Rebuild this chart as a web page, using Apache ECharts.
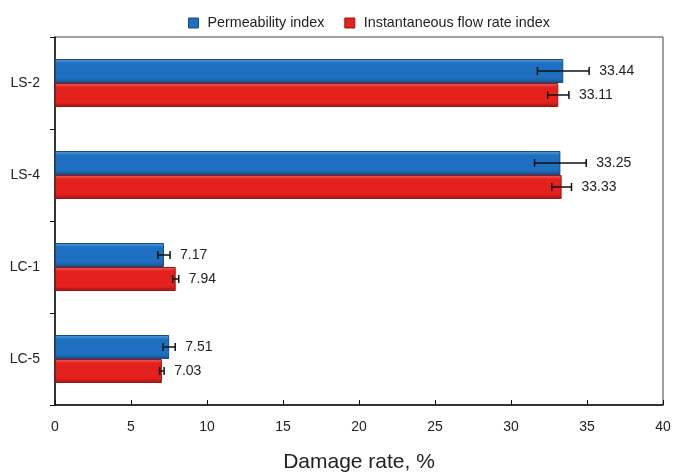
<!DOCTYPE html>
<html><head><meta charset="utf-8">
<script src="https://cdn.jsdelivr.net/npm/echarts@6/dist/echarts.min.js"></script>
<style>html,body{margin:0;padding:0;background:#fff}#c{width:673px;height:472px}</style>
</head><body><div id="c"></div>
<script>
const categories = ['LS-2', 'LS-4', 'LC-1', 'LC-5'];
const permeability = [33.44, 33.25, 7.17, 7.51];
const permeabilityErr = [1.7, 1.7, 0.4, 0.4];
const flowRate = [33.11, 33.33, 7.94, 7.03];
const flowRateErr = [0.7, 0.65, 0.2, 0.15];
const xTicks = [0, 5, 10, 15, 20, 25, 30, 35, 40];

const BAR_W = 24;
const font = 'Liberation Sans, Arial, sans-serif';

function grad(light, main, dark) {
  return new echarts.graphic.LinearGradient(0, 0, 0, 1, [
    {offset: 0, color: light}, {offset: 0.18, color: main},
    {offset: 0.8, color: main}, {offset: 1, color: dark}
  ]);
}
const blueFill = grad('#5a9ee0', '#1f6fc0', '#164d86');
const redFill = grad('#f0605a', '#e4211d', '#9c1512');

function errData(vals, errs, side) {
  return vals.map((v, i) => [i, v, errs[i], side]);
}
function renderErr(params, api) {
  const cat = api.value(0), v = api.value(1), e = api.value(2), side = api.value(3);
  const c = api.coord([v, cat]);
  const y = c[1] + side * BAR_W / 2;
  const x1 = api.coord([v - e, cat])[0];
  const x2 = api.coord([v + e, cat])[0];
  const cap = 4;
  return {
    type: 'group',
    children: [
      {type: 'line', shape: {x1: x1, y1: y, x2: x2, y2: y}, style: {stroke: '#111', lineWidth: 1.5}},
      {type: 'line', shape: {x1: x1, y1: y - cap, x2: x1, y2: y + cap}, style: {stroke: '#111', lineWidth: 1.5}},
      {type: 'line', shape: {x1: x2, y1: y - cap, x2: x2, y2: y + cap}, style: {stroke: '#111', lineWidth: 1.5}},
      {type: 'text', x: x2 + 10, y: y, style: {text: v.toFixed(2), fill: '#222', font: '14px ' + font, textVerticalAlign: 'middle', textAlign: 'left'}}
    ]
  };
}

const chart = echarts.init(document.getElementById('c'));
chart.setOption({
  animation: false,
  textStyle: {fontFamily: font},
  legend: {
    top: 11, left: 183, itemWidth: 10, itemHeight: 10, itemGap: 20,
    textStyle: {fontSize: 14.3, color: '#222', fontFamily: font, padding: [0, 0, 0, 4]},
    data: [
      {name: 'Permeability index', icon: 'rect', itemStyle: {color: '#1f6fc0', borderColor: '#164d86', borderWidth: 1}},
      {name: 'Instantaneous flow rate index', icon: 'rect', itemStyle: {color: '#e4211d', borderColor: '#9c1512', borderWidth: 1}}
    ]
  },
  grid: {left: 55, right: 10, top: 37, bottom: 67, show: true, borderColor: '#444', borderWidth: 1, containLabel: false, outerBoundsMode: 'none'},
  xAxis: {
    type: 'value', min: 0, max: 40, interval: 5,
    name: 'Damage rate, %', nameLocation: 'middle', nameGap: 47,
    nameTextStyle: {fontSize: 21, color: '#222', fontFamily: font},
    axisLine: {show: true, lineStyle: {color: '#111', width: 1.5}},
    axisTick: {show: true, inside: true, length: 5, lineStyle: {color: '#111'}},
    axisLabel: {fontSize: 14, color: '#222', margin: 15, formatter: v => xTicks.includes(v) ? String(v) : ''},
    splitLine: {show: false}
  },
  yAxis: {
    type: 'category', data: categories, inverse: true,
    axisLine: {show: true, lineStyle: {color: '#111', width: 1.5}},
    axisTick: {show: true, length: 5, lineStyle: {color: '#111'}},
    axisLabel: {fontSize: 14, color: '#222', margin: 15},
    splitLine: {show: false}
  },
  series: [
    {name: 'Permeability index', type: 'bar', data: permeability, barWidth: BAR_W, barGap: '0%',
      itemStyle: {color: blueFill, borderColor: '#164d86', borderWidth: 1}},
    {name: 'Instantaneous flow rate index', type: 'bar', data: flowRate, barWidth: BAR_W, barGap: '0%',
      itemStyle: {color: redFill, borderColor: '#9c1512', borderWidth: 1}},
    {type: 'custom', renderItem: renderErr, data: errData(permeability, permeabilityErr, -1), z: 10, encode: {x: 1, y: 0}},
    {type: 'custom', renderItem: renderErr, data: errData(flowRate, flowRateErr, 1), z: 10, encode: {x: 1, y: 0}}
  ]
});
</script></body></html>
